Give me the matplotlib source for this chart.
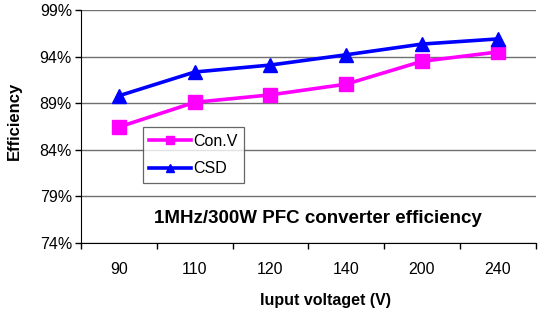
import numpy as np
import matplotlib
matplotlib.use("Agg")
import matplotlib.pyplot as plt
from matplotlib.ticker import FixedLocator, FuncFormatter

plt.rcParams['font.family'] = ['Liberation Sans', 'DejaVu Sans']

## data
voltages = ['90', '110', '120', '140', '200', '240']
conv_eff = [86.45, 89.1, 89.9, 91.05, 93.5, 94.5]
csd_eff = [89.8, 92.35, 93.1, 94.2, 95.35, 95.9]
y_ticks = [74, 79, 84, 89, 94, 99]

fig = plt.figure(figsize=(5.38, 3.14), dpi=100)
ax = fig.add_axes([0.1506, 0.226, 0.845, 0.742])

x = np.arange(len(voltages))
ax.plot(x, conv_eff, color='#FF00FF', lw=2.6, marker='s', ms=10,
        label='Con.V', zorder=3)
ax.plot(x, csd_eff, color='#0000FF', lw=2.6, marker='^', ms=10,
        label='CSD', zorder=3)

ax.set_xlim(-0.5, len(voltages) - 0.5)
ax.set_ylim(74, 99)

## category ticks sit between categories
ax.set_xticks(x)
ax.set_xticklabels(voltages, fontsize=11.5)
ax.tick_params(axis='x', which='major', length=0, pad=14)
ax.xaxis.set_minor_locator(FixedLocator(np.arange(-0.5, len(voltages) - 0.4, 1)))
ax.tick_params(axis='x', which='minor', length=4.5, width=1, direction='out')

ax.set_yticks(y_ticks)
ax.yaxis.set_major_formatter(FuncFormatter(lambda v, p: f'{v:.0f}%'))
ax.tick_params(axis='y', length=4.5, width=1, direction='out', labelsize=11.5, pad=2)

ax.grid(axis='y', color='#707070', lw=1)
ax.set_axisbelow(True)
for s in ['top', 'right']:
    ax.spines[s].set_visible(False)
ax.spines['left'].set_color('black')
ax.spines['bottom'].set_color('black')

ax.set_ylabel('Efficiency', fontsize=12, fontweight='bold')
ax.set_xlabel('Iuput voltaget (V)', fontsize=11.5, fontweight='bold')
ax.yaxis.set_label_coords(-0.131, 0.524)
ax.xaxis.set_label_coords(0.538, -0.215)

ax.text(0.52, 0.105, '1MHz/300W PFC converter efficiency', transform=ax.transAxes,
        ha='center', va='center', fontsize=13.5, fontweight='bold')

leg = ax.legend(loc='upper left', bbox_to_anchor=(0.1357, 0.498), fontsize=11.5,
                frameon=True, fancybox=False, edgecolor='#404040', borderaxespad=0,
                handlelength=2.6, handletextpad=0.15, borderpad=0.42,
                labelspacing=0.8, markerscale=0.6)
leg.get_frame().set_linewidth(0.9)

fig.savefig('out.png', dpi=100)
